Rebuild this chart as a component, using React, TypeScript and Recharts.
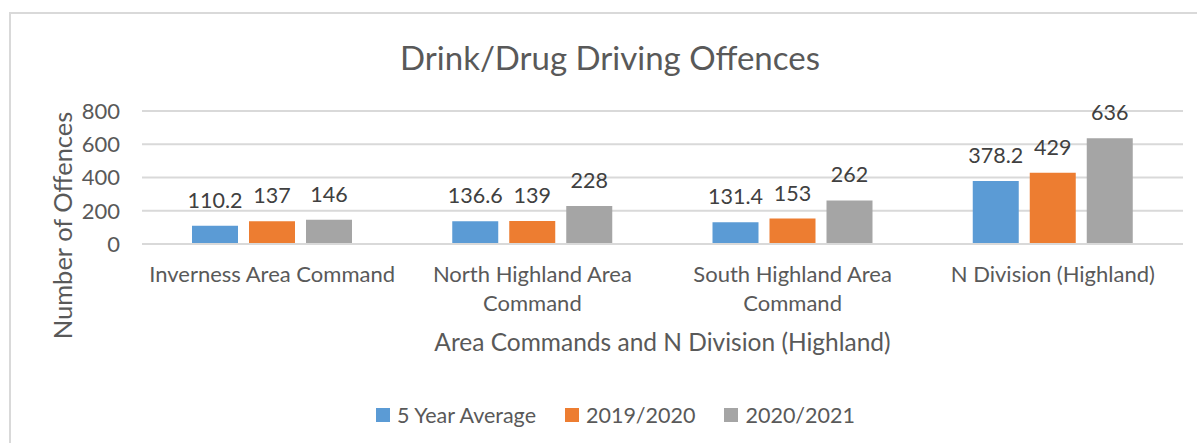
import React from "react";
import { BarChart, Bar, XAxis, YAxis, CartesianGrid, Legend, LabelList } from "recharts";

const categories = [
  "Inverness Area Command",
  "North Highland Area Command",
  "South Highland Area Command",
  "N Division (Highland)",
];
const fiveYearAverage = [110.2, 136.6, 131.4, 378.2];
const y2019 = [137, 139, 153, 429];
const y2020 = [146, 228, 262, 636];
const yTicks = [0, 200, 400, 600, 800];

const series = [
  { key: "avg", name: "5 Year Average", color: "#5B9BD5" },
  { key: "y1920", name: "2019/2020", color: "#ED7D31" },
  { key: "y2021", name: "2020/2021", color: "#A5A5A5" },
];

const data = categories.map((name, i) => ({
  name,
  avg: fiveYearAverage[i],
  y1920: y2019[i],
  y2021: y2020[i],
}));

const FONT = "Lato, 'Noto Sans', sans-serif";
const TEXT = "#595959";

// long labels wrap like Excel does: last word drops to a second line
function wrapLabel(label: string): string[] {
  if (label.length <= 22) return [label];
  const words = label.split(" ");
  return [words.slice(0, -1).join(" "), words[words.length - 1]];
}

function CategoryTick(props: any) {
  const { x, y, payload } = props;
  const lines = wrapLabel(String(payload.value));
  return (
    <text x={x} y={y + 30} textAnchor="middle" fontSize={22} fill={TEXT} fontFamily={FONT}>
      {lines.map((line, i) => (
        <tspan key={i} x={x} dy={i === 0 ? 0 : 29}>
          {line}
        </tspan>
      ))}
    </text>
  );
}

function YLabel(props: any) {
  const { viewBox } = props;
  const cx = viewBox.x + 32;
  const cy = viewBox.y + viewBox.height / 2 + 48;
  return (
    <text
      x={cx}
      y={cy}
      transform={`rotate(-90, ${cx}, ${cy})`}
      textAnchor="middle"
      dominantBaseline="central"
      fontSize={25.5}
      fill={TEXT}
      fontFamily={FONT}
    >
      Number of Offences
    </text>
  );
}

function LegendBox() {
  return (
    <div
      style={{
        display: "flex",
        justifyContent: "center",
        gap: 29,
        paddingTop: 46,
        paddingLeft: 18,
        fontFamily: FONT,
        fontSize: 21.5,
        color: TEXT,
      }}
    >
      {series.map((s) => (
        <div key={s.key} style={{ display: "flex", alignItems: "center", gap: 7 }}>
          <span style={{ display: "inline-block", width: 14, height: 14, background: s.color }} />
          <span>{s.name}</span>
        </div>
      ))}
    </div>
  );
}

export default function App() {
  return (
    <div style={{ position: "absolute", left: 0, top: 0, width: 1197, height: 443, background: "#fff", overflow: "hidden" }}>
      <div
        style={{
          position: "absolute",
          left: 9,
          top: 12,
          width: 1300,
          height: 600,
          borderLeft: "2px solid #d9d9d9",
          borderTop: "2px solid #d9d9d9",
        }}
      />
      <div
        style={{
          position: "absolute",
          left: 0,
          top: 37,
          width: 1220,
          textAlign: "center",
          fontFamily: FONT,
          fontSize: 33,
          lineHeight: "40px",
          color: TEXT,
        }}
      >
        Drink/Drug Driving Offences
      </div>
      <div style={{ position: "absolute", left: 0, top: 0 }}>
        <BarChart
          width={1197}
          height={443}
          data={data}
          margin={{ top: 111, right: 14, bottom: 0, left: 30 }}
          barSize={46}
          barGap={11}
        >
          <CartesianGrid vertical={false} stroke="#d9d9d9" strokeWidth={2} />
          <XAxis
            dataKey="name"
            axisLine={{ stroke: "#d9d9d9", strokeWidth: 2 }}
            tickLine={false}
            tick={<CategoryTick />}
            interval={0}
            height={112}
            label={{
              value: "Area Commands and N Division (Highland)",
              position: "insideBottom",
              offset: 5,
              fill: TEXT,
              fontSize: 24.5,
              fontFamily: FONT,
            }}
          />
          <YAxis
            domain={[0, 800]}
            ticks={yTicks}
            axisLine={false}
            tickLine={false}
            width={112}
            tick={{ fill: TEXT, fontSize: 22, fontFamily: FONT }}
            tickMargin={16}
            label={<YLabel />}
          />
          <Legend verticalAlign="bottom" content={() => <LegendBox />} height={87} />
          {series.map((s) => (
            <Bar key={s.key} dataKey={s.key} name={s.name} fill={s.color} isAnimationActive={false}>
              <LabelList dataKey={s.key} position="top" offset={18} fill="#404040" fontSize={21.5} fontFamily={FONT} />
            </Bar>
          ))}
        </BarChart>
      </div>
    </div>
  );
}
